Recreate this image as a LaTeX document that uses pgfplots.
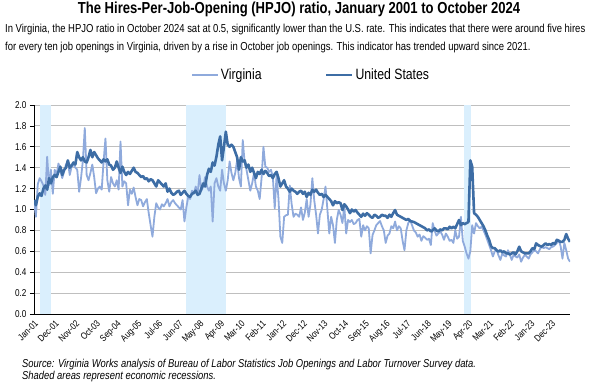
\documentclass[border=0pt]{standalone}
\usepackage{pgfplots}
\pgfplotsset{compat=1.18}
\usepackage{pgfplotstable}
\usepackage{fontspec}
\setmainfont{Liberation Sans}[FakeStretch=0.82]
\definecolor{va}{RGB}{143,170,220}
\definecolor{us}{RGB}{61,109,165}
\definecolor{rec}{RGB}{218,239,253}
\definecolor{gridc}{RGB}{191,191,191}

\pgfplotstableread[row sep=\\]{v\\
1.09\\ 1.04\\ 1.12\\ 1.155\\ 1.13\\ 1.20\\ 1.23\\ 1.19\\ 1.30\\ 1.25\\ 1.31\\ 1.33\\
1.31\\ 1.36\\ 1.41\\ 1.33\\ 1.38\\ 1.40\\ 1.47\\ 1.40\\ 1.42\\ 1.45\\ 1.43\\ 1.55\\
1.50\\ 1.47\\ 1.50\\ 1.46\\ 1.45\\ 1.50\\ 1.57\\ 1.50\\ 1.55\\ 1.52\\ 1.49\\ 1.47\\
1.45\\ 1.48\\ 1.46\\ 1.48\\ 1.43\\ 1.42\\ 1.38\\ 1.40\\ 1.46\\ 1.40\\ 1.35\\ 1.41\\
1.36\\ 1.33\\ 1.36\\ 1.34\\ 1.37\\ 1.40\\ 1.36\\ 1.35\\ 1.33\\ 1.31\\ 1.32\\ 1.29\\
1.30\\ 1.27\\ 1.29\\ 1.28\\ 1.25\\ 1.22\\ 1.28\\ 1.26\\ 1.24\\ 1.22\\ 1.25\\ 1.17\\
1.20\\ 1.16\\ 1.14\\ 1.15\\ 1.17\\ 1.18\\ 1.14\\ 1.16\\ 1.18\\ 1.15\\ 1.13\\ 1.12\\
1.15\\ 1.16\\ 1.18\\ 1.14\\ 1.15\\ 1.20\\ 1.25\\ 1.22\\ 1.33\\ 1.39\\ 1.36\\ 1.45\\
1.42\\ 1.505\\ 1.62\\ 1.70\\ 1.47\\ 1.60\\ 1.745\\ 1.62\\ 1.60\\ 1.62\\ 1.60\\ 1.55\\
1.50\\ 1.38\\ 1.50\\ 1.46\\ 1.47\\ 1.40\\ 1.43\\ 1.36\\ 1.40\\ 1.35\\ 1.30\\ 1.36\\
1.34\\ 1.38\\ 1.34\\ 1.37\\ 1.35\\ 1.32\\ 1.33\\ 1.30\\ 1.34\\ 1.36\\ 1.30\\ 1.22\\
1.25\\ 1.28\\ 1.22\\ 1.20\\ 1.17\\ 1.20\\ 1.18\\ 1.17\\ 1.15\\ 1.17\\ 1.18\\ 1.15\\
1.17\\ 1.12\\ 1.16\\ 1.14\\ 1.19\\ 1.17\\ 1.19\\ 1.16\\ 1.14\\ 1.15\\ 1.12\\ 1.14\\
1.12\\ 1.10\\ 1.08\\ 1.04\\ 1.08\\ 1.06\\ 1.07\\ 1.06\\ 0.995\\ 1.05\\ 1.03\\ 1.00\\
0.965\\ 1.00\\ 0.98\\ 0.995\\ 0.97\\ 0.95\\ 0.93\\ 0.96\\ 0.94\\ 0.965\\ 0.95\\ 0.93\\
0.92\\ 0.95\\ 0.94\\ 0.92\\ 0.93\\ 0.95\\ 0.94\\ 0.94\\ 0.92\\ 0.95\\ 0.93\\ 0.965\\
0.995\\ 0.95\\ 0.94\\ 0.93\\ 0.92\\ 0.91\\ 0.90\\ 0.91\\ 0.89\\ 0.885\\ 0.88\\ 0.87\\
0.86\\ 0.85\\ 0.84\\ 0.83\\ 0.82\\ 0.80\\ 0.81\\ 0.79\\ 0.80\\ 0.82\\ 0.80\\ 0.79\\
0.81\\ 0.80\\ 0.82\\ 0.82\\ 0.81\\ 0.835\\ 0.82\\ 0.835\\ 0.82\\ 0.86\\ 0.90\\ 0.85\\
0.87\\ 0.86\\ 0.87\\ 0.88\\ 1.47\\ 1.41\\ 0.965\\ 0.95\\ 0.93\\ 0.90\\ 0.87\\ 0.84\\
0.80\\ 0.75\\ 0.71\\ 0.65\\ 0.63\\ 0.63\\ 0.61\\ 0.596\\ 0.61\\ 0.59\\ 0.60\\ 0.58\\
0.58\\ 0.57\\ 0.58\\ 0.59\\ 0.57\\ 0.60\\ 0.644\\ 0.60\\ 0.59\\ 0.58\\ 0.58\\ 0.58\\
0.60\\ 0.63\\ 0.62\\ 0.676\\ 0.66\\ 0.65\\ 0.645\\ 0.66\\ 0.676\\ 0.66\\ 0.67\\ 0.66\\
0.68\\ 0.67\\ 0.71\\ 0.70\\ 0.69\\ 0.69\\ 0.71\\ 0.765\\ 0.72\\ 0.69\\
}\ustable

\pgfplotstableread[row sep=\\]{v\\
1.09\\ 0.93\\ 1.24\\ 1.30\\ 1.27\\ 1.23\\ 1.14\\ 1.505\\ 1.23\\ 1.38\\ 1.15\\ 1.38\\
1.33\\ 1.44\\ 1.38\\ 1.30\\ 1.36\\ 1.43\\ 1.46\\ 1.33\\ 1.41\\ 1.43\\ 1.40\\ 1.38\\
1.17\\ 1.30\\ 1.47\\ 1.78\\ 1.33\\ 1.28\\ 1.35\\ 1.43\\ 1.31\\ 1.155\\ 1.20\\ 1.22\\
1.19\\ 1.46\\ 1.68\\ 1.28\\ 1.17\\ 1.31\\ 1.25\\ 1.22\\ 1.28\\ 1.19\\ 1.65\\ 1.22\\
1.27\\ 1.25\\ 1.04\\ 1.19\\ 1.15\\ 1.21\\ 1.12\\ 1.04\\ 1.10\\ 1.09\\ 1.03\\ 1.07\\
1.10\\ 0.965\\ 0.85\\ 0.74\\ 0.93\\ 1.06\\ 1.02\\ 1.00\\ 1.05\\ 1.03\\ 1.06\\ 1.10\\
1.03\\ 1.07\\ 1.09\\ 1.06\\ 1.04\\ 1.02\\ 1.00\\ 1.09\\ 0.885\\ 1.02\\ 1.12\\ 1.10\\
1.18\\ 1.15\\ 1.22\\ 1.15\\ 1.33\\ 1.18\\ 1.22\\ 1.31\\ 1.22\\ 1.18\\ 1.22\\ 0.885\\
1.25\\ 1.30\\ 1.22\\ 1.18\\ 1.38\\ 1.25\\ 1.18\\ 1.28\\ 1.46\\ 1.35\\ 1.28\\ 1.35\\
1.47\\ 1.30\\ 1.22\\ 1.665\\ 1.45\\ 1.38\\ 1.28\\ 1.18\\ 1.25\\ 1.35\\ 1.22\\ 1.18\\
1.10\\ 1.30\\ 1.60\\ 1.41\\ 1.40\\ 1.36\\ 1.38\\ 1.31\\ 1.01\\ 1.33\\ 1.10\\ 0.74\\
0.68\\ 0.93\\ 0.945\\ 0.95\\ 1.23\\ 1.05\\ 0.93\\ 0.96\\ 0.95\\ 0.93\\ 1.02\\ 0.90\\
0.97\\ 1.10\\ 0.93\\ 1.05\\ 1.30\\ 1.09\\ 0.95\\ 0.77\\ 0.95\\ 1.00\\ 1.10\\ 1.22\\
1.00\\ 0.77\\ 0.93\\ 0.85\\ 0.68\\ 0.90\\ 0.995\\ 0.95\\ 0.87\\ 1.03\\ 0.77\\ 0.90\\
0.88\\ 0.90\\ 0.86\\ 0.87\\ 0.90\\ 0.91\\ 0.74\\ 0.85\\ 0.80\\ 0.84\\ 0.82\\ 0.58\\
0.755\\ 0.80\\ 0.85\\ 0.87\\ 0.89\\ 0.84\\ 0.80\\ 0.68\\ 0.75\\ 0.77\\ 0.84\\ 0.82\\
0.885\\ 0.80\\ 0.84\\ 0.82\\ 0.70\\ 0.61\\ 0.80\\ 0.87\\ 0.90\\ 0.85\\ 0.80\\ 0.78\\
0.74\\ 0.76\\ 0.70\\ 0.745\\ 0.73\\ 0.71\\ 0.72\\ 0.66\\ 0.87\\ 0.80\\ 0.75\\ 0.77\\
0.79\\ 0.76\\ 0.71\\ 0.77\\ 0.74\\ 0.70\\ 0.71\\ 0.68\\ 0.80\\ 0.72\\ 0.74\\ 0.93\\
0.70\\ 0.645\\ 0.58\\ 0.53\\ 0.60\\ 0.85\\ 0.77\\ 0.87\\ 0.84\\ 0.82\\ 0.835\\ 0.80\\
0.76\\ 0.71\\ 0.66\\ 0.61\\ 0.55\\ 0.60\\ 0.61\\ 0.56\\ 0.517\\ 0.58\\ 0.56\\ 0.55\\
0.61\\ 0.57\\ 0.517\\ 0.565\\ 0.55\\ 0.54\\ 0.57\\ 0.50\\ 0.54\\ 0.565\\ 0.55\\ 0.53\\
0.57\\ 0.59\\ 0.61\\ 0.60\\ 0.58\\ 0.62\\ 0.645\\ 0.63\\ 0.64\\ 0.63\\ 0.62\\ 0.64\\
0.645\\ 0.66\\ 0.68\\ 0.71\\ 0.65\\ 0.53\\ 0.68\\ 0.61\\ 0.53\\ 0.50\\
}\vatable

\begin{document}
\begin{tikzpicture}
\path[use as bounding box] (0bp,0bp) rectangle (600bp,382bp);
\node[font=\bfseries\fontsize{16}{18}\selectfont, inner sep=0] at (299bp,373bp) {The Hires-Per-Job-Opening (HPJO) ratio, January 2001 to October 2024};
\node[anchor=west, font=\fontsize{11.6}{13}\selectfont, inner sep=0] at (5bp,352bp) {In Virginia, the HPJO ratio in October 2024 sat at 0.5, significantly lower than the U.S. rate. This indicates that there were around five hires};
\node[anchor=west, font=\fontsize{11.6}{13}\selectfont, inner sep=0] at (5bp,334bp) {for every ten job openings in Virginia, driven by a rise in October job openings. This indicator has trended upward since 2021.};
\begin{axis}[
  at={(34bp,68bp)}, anchor=origin,
  width=536bp, height=209bp, scale only axis,
  xmin=0, xmax=285, ymin=0, ymax=2,
  axis x line*=bottom, axis y line*=left,
  axis line style={-, black, line width=0.8bp},
  ytick={0,0.2,0.4,0.6,0.8,1,1.2,1.4,1.6,1.8,2},
  yticklabel style={font=\fontsize{10}{12}\selectfont, /pgf/number format/.cd, fixed, fixed zerofill, precision=1, assume math mode=true},
  ymajorgrids, grid style={gridc, line width=0.9bp},
  tick align=outside, major tick length=4bp,
  ytick style={black, line width=0.7bp},
  xtick={0,11,...,275},
  xticklabels={Jan-01,Dec-01,Nov-02,Oct-03,Sep-04,Aug-05,Jul-06,Jun-07,May-08,Apr-09,Mar-10,Feb-11,Jan-12,Dec-12,Nov-13,Oct-14,Sep-15,Aug-16,Jul-17,Jun-18,May-19,Apr-20,Mar-21,Feb-22,Jan-23,Dec-23},
  xtick style={draw=none},
  xticklabel style={rotate=45, anchor=north east, font=\fontsize{9.5}{11}\selectfont, inner sep=1bp},
  legend style={at={(0.517,1.144)}, anchor=center, draw=none, fill=none, legend columns=2, font=\fontsize{15}{17}\selectfont, /tikz/every even column/.append style={column sep=2bp}},
  legend image code/.code={\draw[#1] (0bp,0bp) -- (26bp,0bp);},
]
\addplot[fill=rec, draw=none, forget plot] coordinates {(3.2,0) (3.2,2) (9,2) (9,0)} -- cycle;
\addplot[fill=rec, draw=none, forget plot] coordinates {(81,0) (81,2) (102,2) (102,0)} -- cycle;
\addplot[fill=rec, draw=none, forget plot] coordinates {(228.6,0) (228.6,2) (232.3,2) (232.3,0)} -- cycle;
\addplot[va, line width=1.8bp, line join=round] table[x expr=\coordindex, y=v] {\vatable};
\addlegendentry{\makebox[100bp][l]{Virginia}}
\addplot[us, line width=2.6bp, line join=round] table[x expr=\coordindex, y=v] {\ustable};
\addlegendentry{United States}
\end{axis}
\node[anchor=west, font=\itshape\fontsize{11.5}{13}\selectfont, inner sep=0] at (22bp,17bp) {Source: Virginia Works analysis of Bureau of Labor Statistics Job Openings and Labor Turnover Survey data.};
\node[anchor=west, font=\itshape\fontsize{11.5}{13}\selectfont, inner sep=0] at (22bp,5bp) {Shaded areas represent economic recessions.};
\end{tikzpicture}
\end{document}
